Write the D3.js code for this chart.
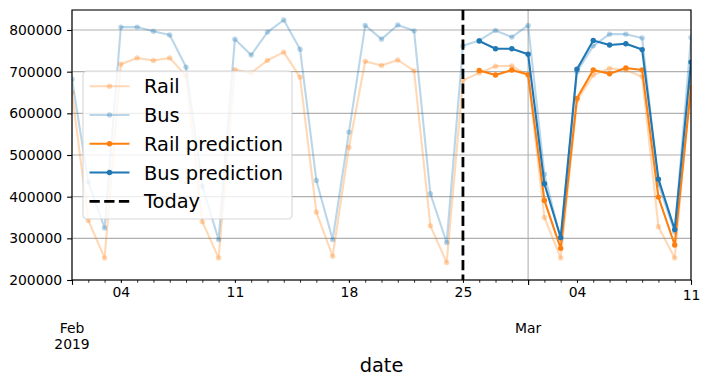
<!DOCTYPE html>
<html>
<head>
<meta charset="utf-8">
<script src="https://cdn.jsdelivr.net/npm/d3@7"></script>
<style>
    body { margin: 0; background: #ffffff; }
    text { font-family: "DejaVu Sans", sans-serif; }
</style>
</head>
<body>
<div id="chart"></div>
<script>
// daily ridership, Feb 1 2019 .. Mar 11 2019
var firstDay = "2019-02-01";
var lastDay = "2019-03-11";

var railValues = [650000, 343000, 253000, 718000, 733000, 727000, 733000, 690000, 340000, 253000,
    705000, 697000, 727000, 747000, 687000, 363000, 257000, 518000, 725000, 715000,
    728000, 702000, 330000, 242000, 679000, 697000, 713000, 714000, 691000, 350000,
    253000, 630000, 692000, 708000, 704000, 688000, 328000, 253000, 680000];

var busValues = [682000, 435000, 325000, 807000, 807000, 797000, 788000, 711000, 425000, 297000,
    778000, 740000, 795000, 824000, 754000, 439000, 297000, 555000, 811000, 778000,
    812000, 798000, 407000, 290000, 762000, 775000, 799000, 783000, 811000, 454000,
    297000, 700000, 762000, 790000, 790000, 781000, 430000, 315000, 782000];

// predictions start the day after "today"
var predStart = "2019-02-26";
var railPred = [703000, 692000, 704000, 693000, 391000, 276000, 636000, 704000, 695000, 709000,
    704000, 399000, 284000, 662000];
var busPred = [773500, 755000, 755000, 742000, 431000, 302000, 706000, 775000, 764000, 767000,
    753000, 442000, 321000, 723000];

var today = "2019-02-25";

var yTicks = [200000, 300000, 400000, 500000, 600000, 700000, 800000];
var weekDays = ["2019-02-04", "2019-02-11", "2019-02-18", "2019-02-25", "2019-03-04"];
var weekText = ["04", "11", "18", "25", "04"];
var monthDays = ["2019-02-01", "2019-03-01", "2019-03-11"];
var monthText = [["Feb", "2019"], ["Mar"], null];
var lastText = "11";

(function () {

    makeChart();

    function makeChart() {

        var W = 711, H = 386;
        var margin = { top: 10, right: 20, bottom: 106, left: 72 },
            width = W - margin.left - margin.right,
            height = H - margin.top - margin.bottom;

        var parse = d3.utcParse("%Y-%m-%d");
        var dates = d3.utcDay.range(parse(firstDay), d3.utcDay.offset(parse(lastDay), 1));
        var predDates = d3.utcDay.range(parse(predStart), d3.utcDay.offset(parse(lastDay), 1));

        var railData = dates.map(function (d, i) { return { date: d, value: railValues[i] }; });
        var busData = dates.map(function (d, i) { return { date: d, value: busValues[i] }; });
        var railPredData = predDates.map(function (d, i) { return { date: d, value: railPred[i] }; });
        var busPredData = predDates.map(function (d, i) { return { date: d, value: busPred[i] }; });

        var x = d3.scaleUtc()
            .domain([parse(firstDay), parse(lastDay)])
            .range([0, width]);

        var y = d3.scaleLinear()
            .domain([200000, 848000])
            .range([height, 0]);

        var svg = d3.select("#chart").append("svg")
            .attr("width", W)
            .attr("height", H)
            .append("g")
            .attr("transform", "translate(" + margin.left + "," + margin.top + ")");

        svg.append("defs").append("clipPath")
            .attr("id", "plotClip")
            .append("rect")
            .attr("width", width)
            .attr("height", height);

        //grid lines
        svg.append("g")
            .selectAll("line")
            .data(yTicks)
            .enter().append("line")
            .attr("x1", 0)
            .attr("x2", width)
            .attr("y1", function (d) { return y(d); })
            .attr("y2", function (d) { return y(d); })
            .attr("stroke", "#b0b0b0")
            .attr("stroke-width", 1.1);

        svg.append("g")
            .selectAll("line")
            .data(monthDays)
            .enter().append("line")
            .attr("x1", function (d) { return x(parse(d)); })
            .attr("x2", function (d) { return x(parse(d)); })
            .attr("y1", 0)
            .attr("y2", height)
            .attr("stroke", "#b0b0b0")
            .attr("stroke-width", 1.1);

        var line = d3.line()
            .x(function (d) { return x(d.date); })
            .y(function (d) { return y(d.value); });

        var plot = svg.append("g").attr("clip-path", "url(#plotClip)");

        function drawSeries(data, color, alpha) {
            var g = plot.append("g").attr("opacity", 1);
            g.append("path")
                .datum(data)
                .attr("d", line)
                .attr("fill", "none")
                .attr("stroke", color)
                .attr("stroke-opacity", alpha)
                .attr("stroke-width", 2.1)
                .attr("stroke-linejoin", "round");
            g.selectAll("circle")
                .data(data)
                .enter().append("circle")
                .attr("cx", function (d) { return x(d.date); })
                .attr("cy", function (d) { return y(d.value); })
                .attr("r", 2.7)
                .attr("fill", color)
                .attr("fill-opacity", alpha);
        }

        drawSeries(railData, "#ff7f0e", 0.3);
        drawSeries(busData, "#1f77b4", 0.3);
        drawSeries(railPredData, "#ff7f0e", 1);
        drawSeries(busPredData, "#1f77b4", 1);

        // today marker
        plot.append("line")
            .attr("x1", x(parse(today)))
            .attr("x2", x(parse(today)))
            .attr("y1", 0)
            .attr("y2", height)
            .attr("stroke", "#000")
            .attr("stroke-width", 2.8)
            .attr("stroke-dasharray", "10.3,4.4");

        //y axis
        var yAxis = svg.append("g")
            .call(d3.axisLeft(y).tickValues(yTicks).tickSize(4.9).tickPadding(4.9).tickFormat(d3.format("d")));
        yAxis.select(".domain").remove();
        yAxis.selectAll("line").attr("stroke", "#000").attr("stroke-width", 1.1);
        yAxis.selectAll("text")
            .style("font-size", "13.9px")
            .style("font-family", "DejaVu Sans")
            .attr("fill", "#000");

        //x axis: daily minor ticks
        var minorAxis = svg.append("g")
            .attr("transform", "translate(0," + height + ")")
            .call(d3.axisBottom(x).tickValues(dates).tickSize(2.8).tickFormat(""));
        minorAxis.select(".domain").remove();
        minorAxis.selectAll("line").attr("stroke", "#000").attr("stroke-width", 0.8);

        var weekAxis = svg.append("g")
            .attr("transform", "translate(0," + height + ")")
            .call(d3.axisBottom(x).tickValues(weekDays.map(parse)).tickSize(2.8).tickPadding(4.7)
                .tickFormat(function (d, i) { return weekText[i]; }));
        weekAxis.select(".domain").remove();
        weekAxis.selectAll("line").attr("stroke", "#000").attr("stroke-width", 0.8);
        weekAxis.selectAll("text").style("font-size", "13.9px").style("font-family", "DejaVu Sans").attr("fill", "#000");

        var majorAxis = svg.append("g")
            .attr("transform", "translate(0," + height + ")")
            .call(d3.axisBottom(x).tickValues(monthDays.map(parse)).tickSize(4.9).tickPadding(4.9)
                .tickFormat(function (d, i) { return i == monthDays.length - 1 ? lastText : ""; }));
        majorAxis.select(".domain").remove();
        majorAxis.selectAll("line").attr("stroke", "#000").attr("stroke-width", 1.1);
        majorAxis.selectAll("text").style("font-size", "13.9px").style("font-family", "DejaVu Sans").attr("fill", "#000");

        // month / year labels under the day numbers
        monthDays.forEach(function (d, i) {
            if (!monthText[i]) return;
            var t = svg.append("text")
                .attr("text-anchor", "middle")
                .style("font-size", "13.9px")
                .attr("fill", "#000");
            monthText[i].forEach(function (s, j) {
                t.append("tspan")
                    .attr("x", x(parse(d)))
                    .attr("y", height + 53.4 + j * 15.8)
                    .text(s);
            });
        });

        svg.append("text")
            .attr("x", width / 2)
            .attr("y", height + 92)
            .attr("text-anchor", "middle")
            .style("font-size", "19.4px")
            .attr("fill", "#000")
            .text("date");

        //frame
        svg.append("rect")
            .attr("width", width)
            .attr("height", height)
            .attr("fill", "none")
            .attr("stroke", "#000")
            .attr("stroke-width", 1.1);

        //legend
        var legendItems = [
            { label: "Rail", color: "#ff7f0e", alpha: 0.3, dash: null, marker: true },
            { label: "Bus", color: "#1f77b4", alpha: 0.3, dash: null, marker: true },
            { label: "Rail prediction", color: "#ff7f0e", alpha: 1, dash: null, marker: true },
            { label: "Bus prediction", color: "#1f77b4", alpha: 1, dash: null, marker: true },
            { label: "Today", color: "#000", alpha: 1, dash: "10.3,4.4", marker: false }
        ];

        var legend = svg.append("g")
            .attr("transform", "translate(" + (83 - margin.left) + "," + (71 - margin.top) + ")");

        legend.append("rect")
            .attr("width", 209)
            .attr("height", 148)
            .attr("rx", 4)
            .attr("fill", "#fff")
            .attr("fill-opacity", 0.8)
            .attr("stroke", "#cccccc")
            .attr("stroke-opacity", 0.8)
            .attr("stroke-width", 1.1);

        var rows = legend.selectAll(".row")
            .data(legendItems)
            .enter().append("g")
            .attr("class", "row")
            .attr("transform", function (d, i) { return "translate(0," + (15.3 + i * 28.75) + ")"; });

        rows.append("line")
            .attr("x1", 6.5)
            .attr("x2", 46.5)
            .attr("stroke", function (d) { return d.color; })
            .attr("stroke-opacity", function (d) { return d.alpha; })
            .attr("stroke-width", function (d) { return d.dash ? 2.8 : 2.1; })
            .attr("stroke-dasharray", function (d) { return d.dash; });

        rows.filter(function (d) { return d.marker; })
            .append("circle")
            .attr("cx", 26.5)
            .attr("r", 2.7)
            .attr("fill", function (d) { return d.color; })
            .attr("fill-opacity", function (d) { return d.alpha; });

        rows.append("text")
            .attr("x", 61)
            .attr("y", 7)
            .style("font-size", "19.4px")
            .attr("fill", "#000")
            .text(function (d) { return d.label; });
    }

})();
</script>
</body>
</html>
